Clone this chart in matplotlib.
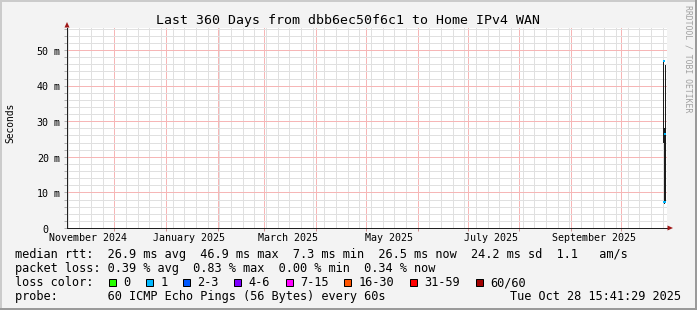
import matplotlib
matplotlib.use('Agg')
import matplotlib.pyplot as plt
import matplotlib.dates as mdates
import matplotlib.transforms as mtransforms
from matplotlib.patches import Rectangle, Polygon
from matplotlib.ticker import MultipleLocator
import pandas as pd
import numpy as np

# ---------------- data ----------------
title = 'Last 360 Days from dbb6ec50f6c1 to Home IPv4 WAN'
y_label = 'Seconds'
watermark = 'RRDTOOL / TOBI OETIKER'
end_time = pd.Timestamp('2025-10-28 15:41:29')
span_days = 360

y_max_ms = 56.2
y_ticks_ms = [0, 10, 20, 30, 40, 50]
y_tick_numbers = ['0', '10', '20', '30', '40', '50']
y_tick_units = ['', 'm', 'm', 'm', 'm', 'm']

x_tick_labels = ['November 2024', 'January 2025', 'March 2025',
                 'May 2025', 'July 2025', 'September 2025']

step_starts = ['2025-10-26 10:00', '2025-10-26 22:00', '2025-10-27 10:00']
step_hours = 12
median_ms = [46.9, 7.3, 26.5]
smoke_low_ms = [24.0, 6.7, 7.6]
smoke_high_ms = [47.2, 28.0, 45.8]
step_loss_color = ['#00b8ff', '#00b8ff', '#00b8ff']

rtt_names = ['avg', 'max', 'min', 'now', 'sd']
rtt_values = [26.9, 46.9, 7.3, 26.5, 24.2]
am_s = 1.1
loss_names = ['avg', 'max', 'min', 'now']
loss_values = [0.39, 0.83, 0.00, 0.34]
loss_labels = ['0', '1', '2-3', '4-6', '7-15', '16-30', '31-59', '60/60']
loss_colors = ['#26ff00', '#00b8ff', '#0059ff', '#7e00ff',
               '#ff00ff', '#ff5500', '#ff0000', '#a10000']
probe_text = '60 ICMP Echo Pings (56 Bytes) every 60s'
stamp_text = 'Tue Oct 28 15:41:29 2025'

# ---------------- layout ----------------
W, H, DPI = 697, 310, 100
MONO = 'DejaVu Sans Mono'
L, T, R, B = 67, 28, 667, 228
ONE_PX = 72.0 / DPI

fig = plt.figure(figsize=(W / DPI, H / DPI), dpi=DPI, facecolor='#f3f3f3')
PX = mtransforms.Affine2D().scale(1, -1).translate(0, H)  # top-left pixel coords

# frame shading
for (x, y, w, h, c) in [(0, 0, W, 2, '#cbcbcb'), (0, 0, 2, H, '#cbcbcb'),
                        (0, H - 2, W, 2, '#9a9a9a'), (W - 2, 0, 2, H, '#9a9a9a')]:
    fig.add_artist(Rectangle((x, y), w, h, transform=PX, color=c, lw=0))

ax = fig.add_axes([L / W, (H - B) / H, (R - L) / W, (B - T) / H])
ax.set_facecolor('white')
start_time = end_time - pd.Timedelta(days=span_days)
ax.set_xlim(mdates.date2num(start_time), mdates.date2num(end_time))
ax.set_ylim(0, y_max_ms)

ax.xaxis.set_major_locator(mdates.MonthLocator())
ax.xaxis.set_minor_locator(mdates.WeekdayLocator(byweekday=mdates.SU))
ax.yaxis.set_major_locator(MultipleLocator(10))
ax.yaxis.set_minor_locator(MultipleLocator(2))
ax.set_axisbelow(True)
ax.grid(which='minor', color='#e0e0e0', lw=ONE_PX, ls='-')
ax.grid(which='major', color='#f6b6b6', lw=ONE_PX, ls='-')

for s in ['top', 'right']:
    ax.spines[s].set_visible(False)
for s in ['left', 'bottom']:
    ax.spines[s].set_color('#202020')
    ax.spines[s].set_linewidth(ONE_PX)
ax.tick_params(axis='y', which='both', direction='out', length=2.0, width=ONE_PX,
               color='#b0b0b0', labelleft=False)
ax.tick_params(axis='x', which='major', direction='out', length=2.0, width=ONE_PX,
               color='#d09090', labelbottom=False)
ax.tick_params(axis='x', which='minor', length=0, labelbottom=False)

# arrows
fig.add_artist(Polygon([(64.5, 27.5), (69.5, 27.5), (67, 22)], closed=True,
                       transform=PX, color='#a01818', lw=0))
fig.add_artist(Polygon([(667.5, 225.5), (667.5, 230.5), (673, 228)], closed=True,
                       transform=PX, color='#a01818', lw=0))

# data
starts = pd.to_datetime(step_starts)
edges = list(starts) + [starts[-1] + pd.Timedelta(hours=step_hours)]
edges_num = mdates.date2num(edges)
ax.stairs(smoke_high_ms, edges_num, baseline=smoke_low_ms, fill=True,
          color='#1c1c1c', lw=0, zorder=2)
mids = (edges_num[:-1] + edges_num[1:]) / 2
ax.scatter(mids, median_ms, c=step_loss_color, marker='s', s=2.2, lw=0, zorder=3)

# y tick labels
ty = mtransforms.blended_transform_factory(PX, ax.transData) + \
    mtransforms.Affine2D().translate(0, -4.7)
for v, num, unit in zip(y_ticks_ms, y_tick_numbers, y_tick_units):
    ax.text(48.8, v, num, transform=ty, ha='right', va='baseline',
            fontsize=7.2, family=MONO, color='#000000')
    if unit:
        ax.text(53.8, v, unit, transform=ty, ha='left', va='baseline',
                fontsize=7.2, family=MONO, color='#000000')

# x tick labels (centred mid-month)
tx = mtransforms.blended_transform_factory(ax.transData, PX)
for lab in x_tick_labels:
    d = pd.to_datetime(lab, format='%B %Y') + pd.Timedelta(days=14)
    ax.text(mdates.date2num(d), 240.7, lab, transform=tx, ha='center', va='baseline',
            fontsize=7.2, family=MONO, color='#000000')

# title, axis label, watermark
fig.text(348.5, 24, title, transform=PX, ha='center', va='baseline',
         fontsize=9.55, family=MONO, color='#000000')
fig.text(10, 123, y_label, transform=PX, ha='center', va='center', rotation=90,
         fontsize=6.9, family=MONO, color='#000000')
fig.text(688, 59, watermark, transform=PX, ha='center', va='center', rotation=270,
         fontsize=5.9, family=MONO, color='#a0a0a0')

# legend
LF = 8.54
CW = 7.14
row1 = 'median rtt:  ' + '  '.join(f'{v:.1f} ms {n}' for v, n in zip(rtt_values, rtt_names)) \
    + f'  {am_s:.1f}   am/s'
row2 = 'packet loss: ' + '  '.join(f'{v:.2f} % {n}' for v, n in zip(loss_values, loss_names))
fig.text(15, 258, row1, transform=PX, ha='left', va='baseline', fontsize=LF, family=MONO)
fig.text(15, 272, row2, transform=PX, ha='left', va='baseline', fontsize=LF, family=MONO)
fig.text(15, 286, 'loss color:', transform=PX, ha='left', va='baseline', fontsize=LF, family=MONO)
x_text = 123.0
for lab, col in zip(loss_labels, loss_colors):
    fig.add_artist(Rectangle((x_text - 14.5, 279), 7, 7, transform=PX,
                             facecolor=col, edgecolor='black', lw=ONE_PX))
    fig.text(x_text, 286, lab, transform=PX, ha='left', va='baseline', fontsize=LF, family=MONO)
    x_text += len(lab) * CW + 30
fig.text(15, 300, 'probe:       ' + probe_text, transform=PX, ha='left', va='baseline',
         fontsize=LF, family=MONO)
fig.text(680.5, 300, stamp_text, transform=PX, ha='right', va='baseline',
         fontsize=LF, family=MONO)

fig.savefig('out.png', dpi=DPI, facecolor=fig.get_facecolor())
